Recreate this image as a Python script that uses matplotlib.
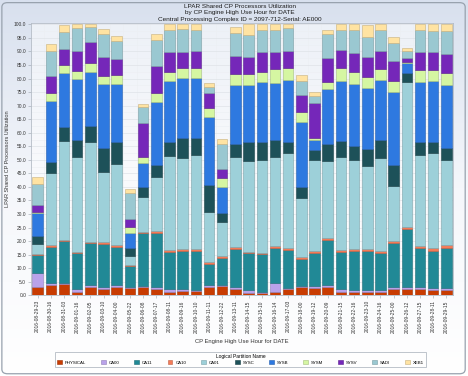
import numpy as np
import matplotlib
matplotlib.use('Agg')
import matplotlib.pyplot as plt
from matplotlib.colors import LinearSegmentedColormap, to_rgb
from matplotlib.patches import FancyBboxPatch
from matplotlib.ticker import FormatStrFormatter, MultipleLocator

dates = ['2016-08-29-23', '2016-08-30-16', '2016-08-31-03', '2016-09-01-16',
         '2016-09-02-05', '2016-09-03-10', '2016-09-04-00', '2016-09-05-22',
         '2016-09-06-08', '2016-09-07-17', '2016-09-08-11', '2016-09-09-16',
         '2016-09-10-10', '2016-09-11-11', '2016-09-12-22', '2016-09-13-11',
         '2016-09-14-15', '2016-09-15-10', '2016-09-16-14', '2016-09-17-03',
         '2016-09-18-00', '2016-09-19-12', '2016-09-20-09', '2016-09-21-15',
         '2016-09-22-16', '2016-09-23-10', '2016-09-24-16', '2016-09-25-00',
         '2016-09-26-12', '2016-09-27-15', '2016-09-28-11', '2016-09-29-15']

# 每个分区的利用率 (从下往上堆叠)
physical = [3.2, 3.8, 4.1, 1.4, 3.2, 2.3, 3.2, 2.6, 3.0, 2.5, 1.4, 1.6, 1.5, 3.2, 3.4, 2.3,
            1.0, 0.7, 1.3, 2.2, 3.0, 2.6, 3.2, 1.4, 1.1, 1.1, 1.2, 2.5, 2.3, 2.3, 2.0, 2.0]
ca00 = [4.9, 0.9, 0.6, 0.8, 0.5, 0.7, 0.5, 0.4, 0.3, 0.5, 0.8, 0.7, 0.5, 0.5, 0.4, 0.9,
        1.0, 0.6, 3.1, 0.6, 0.4, 0.8, 0.6, 0.8, 0.9, 0.9, 0.8, 0.7, 0.7, 0.9, 0.6, 0.8]
ca11 = [6.7, 13.3, 15.3, 13.5, 15.7, 15.9, 14.0, 7.8, 19.6, 20.1, 13.9, 14.1, 14.4, 7.9, 10.1, 13.9,
        13.5, 13.8, 13.2, 14.0, 10.0, 12.3, 16.5, 13.8, 14.2, 14.2, 13.7, 16.0, 21.6, 14.1, 13.9, 14.8]
ca10 = [0.3, 0.7, 0.4, 0.3, 0.4, 0.8, 0.8, 0.5, 0.5, 0.5, 0.6, 0.7, 0.7, 0.8, 0.6, 0.6,
        0.6, 0.6, 0.6, 0.6, 0.6, 0.7, 0.7, 0.7, 0.8, 0.8, 0.8, 0.8, 0.7, 0.9, 0.8, 0.9]
ca01 = [3.8, 26.6, 36.7, 35.2, 36.9, 25.9, 29.8, 3.2, 13.0, 20.2, 34.7, 33.7, 34.7, 18.5, 12.7, 33.5,
        33.6, 34.2, 33.0, 35.0, 21.8, 33.6, 28.7, 34.5, 32.9, 30.9, 34.1, 20.3, 53.5, 33.6, 35.1, 31.4]
sysc = [3.0, 4.0, 4.9, 6.1, 5.8, 8.6, 8.4, 2.8, 3.7, 4.3, 5.3, 7.1, 6.1, 9.8, 3.1, 4.6,
        6.8, 6.8, 6.1, 4.3, 4.3, 3.7, 6.0, 5.9, 5.2, 6.1, 6.7, 7.8, 3.4, 4.9, 4.3, 4.3]
sysb = [8.4, 22.4, 20.2, 22.4, 20.0, 23.7, 21.3, 5.6, 8.6, 23.4, 22.4, 22.4, 22.2, 25.0, 9.6, 21.8,
        21.1, 21.9, 21.0, 22.8, 24.0, 3.6, 20.3, 22.0, 22.9, 22.6, 22.2, 27.1, 3.4, 22.1, 22.4, 23.4]
sysm = [0.6, 3.1, 2.8, 3.2, 3.3, 3.2, 3.3, 2.2, 2.5, 3.0, 3.4, 3.5, 3.7, 3.3, 3.3, 4.0,
        4.1, 3.9, 5.2, 4.3, 3.7, 0.6, 2.8, 4.7, 4.3, 4.1, 4.0, 4.0, 0.6, 4.3, 4.0, 4.6]
sysv = [2.4, 6.3, 5.8, 7.1, 7.8, 6.7, 6.0, 2.9, 12.5, 10.1, 7.2, 6.1, 6.4, 5.5, 3.3, 6.8,
        6.4, 7.2, 6.3, 6.4, 6.1, 12.9, 8.7, 6.7, 7.2, 7.2, 6.8, 7.4, 1.3, 6.8, 6.6, 6.9]
sadi = [7.8, 9.2, 6.5, 8.5, 5.3, 8.6, 6.5, 9.6, 5.7, 9.6, 8.2, 8.3, 7.7, 2.5, 9.3, 8.3,
        8.0, 8.2, 8.2, 8.3, 5.2, 2.8, 8.8, 7.4, 8.4, 7.3, 7.6, 6.6, 2.8, 8.0, 7.7, 8.3]
xeb1 = [2.7, 2.3, 2.5, 1.5, 1.1, 1.8, 1.9, 1.5, 1.2, 2.1, 2.1, 1.8, 2.1, 1.5, 1.8, 2.2,
        3.9, 2.1, 2.0, 1.5, 2.2, 1.6, 1.6, 2.1, 2.1, 4.6, 2.1, 2.0, 0.8, 2.1, 2.6, 2.6]

partition_names = ['PHYSICAL', 'CA00', 'CA11', 'CA10', 'CA01', 'SYSC',
                   'SYSB', 'SYSM', 'SYSV', 'SADI', 'XEB1']
partition_colors = ['#c83c02', '#b9a2ea', '#218996', '#f47b58', '#9dd0d9', '#1d5159',
                    '#2e79e0', '#d5f6a2', '#7527b9', '#9ac8d1', '#ffe3a2']


def darker(c, f=0.78):
    r, g, b = to_rgb(c)
    return (r * f, g * f, b * f)


def plot_chart(series):
    plt.rcParams['font.family'] = ['Liberation Sans', 'DejaVu Sans']
    fig = plt.figure(figsize=(4.68, 3.76), dpi=100)

    # 背景渐变
    bg = fig.add_axes([0, 0, 1, 1], zorder=-10)
    grad = np.linspace(0, 1, 256).reshape(-1, 1)
    cmap = LinearSegmentedColormap.from_list('bg', ['#ffffff', '#f5f7fb', '#d8e0ee'])
    bg.imshow(grad, aspect='auto', cmap=cmap, extent=[0, 1, 0, 1], origin='lower')
    bg.axis('off')

    ax = fig.add_axes([31 / 468, 1 - 295.3 / 376, 422 / 468, 272.3 / 376])
    ax.set_facecolor((1, 1, 1, 0.5))

    x = np.arange(len(dates))
    bottom = np.zeros(len(dates))
    for name, color, vals in zip(partition_names, partition_colors, series):
        vals = np.array(vals)
        ax.bar(x, vals, width=0.8, bottom=bottom, color=color, label=name,
               edgecolor=darker(color), linewidth=0.4, zorder=3)
        bottom += vals

    ax.set_xlim(-0.5, len(dates) - 0.5)
    ax.set_ylim(0, 100.5)
    ax.set_yticks(np.arange(0, 101, 5))
    ax.yaxis.set_major_formatter(FormatStrFormatter('%.1f'))
    ax.yaxis.set_minor_locator(MultipleLocator(2.5))
    ax.set_xticks(x)
    ax.set_xticks(x[:-1] + 0.5, minor=True)
    ax.set_xticklabels(dates, rotation=90)
    ax.tick_params(axis='both', which='major', labelsize=3.5, length=2, width=0.4,
                   color='#9aa2ac', labelcolor='#333333', pad=1.5)
    ax.tick_params(axis='both', which='minor', length=0)
    ax.grid(which='major', axis='y', color='#dfe3e8', linewidth=0.5, zorder=0)
    ax.grid(which='minor', color='#eceff3', linewidth=0.4, zorder=0)
    for s in ax.spines.values():
        s.set_color('#b4bcc6')
        s.set_linewidth(0.6)

    ax.set_ylabel('LPAR Shared CP Processors Utilization', fontsize=4, color='#333333', labelpad=3)
    fig.text(242 / 468, 1 - 342 / 376, 'CP Engine High Use Hour for DATE',
             fontsize=4.2, color='#333333', ha='center', va='center')

    title_lines = ['LPAR Shared CP Processors Utilization',
                   'by CP Engine High Use Hour for DATE',
                   'Central Processing Complex ID = 2097-712-Serial: AE000']
    for i, t in enumerate(title_lines):
        fig.text(240 / 468, 1 - (6.3 + 6.5 * i) / 376, t, fontsize=4.6,
                 color='#1a1a1a', ha='center', va='center')

    leg = fig.legend(loc='center', bbox_to_anchor=(240.5 / 468, 1 - 359.5 / 376),
                     ncol=len(partition_names), fontsize=3.2, title='Logical Partition Name',
                     title_fontsize=3.5, frameon=True, fancybox=False, edgecolor='#a2abb6',
                     handlelength=1.1, handleheight=1.1, handletextpad=0.7,
                     columnspacing=3.3, borderpad=0.45, labelspacing=0.2)
    leg.get_frame().set_linewidth(0.6)
    leg.get_frame().set_facecolor('white')

    border = FancyBboxPatch((0.004, 0.006), 0.99, 0.987, transform=fig.transFigure,
                            boxstyle='round,pad=0,rounding_size=0.012', fill=False,
                            edgecolor='#98a2ae', linewidth=0.9)
    fig.patches.append(border)

    fig.savefig('out.png', dpi=100)


def main():
    series = [physical, ca00, ca11, ca10, ca01, sysc, sysb, sysm, sysv, sadi, xeb1]
    plot_chart(series)


if __name__ == '__main__':
    main()
